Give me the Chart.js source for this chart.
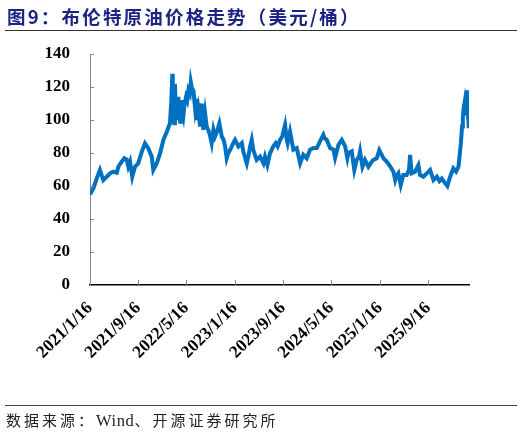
<!DOCTYPE html>
<html><head><meta charset="utf-8">
<script src="https://cdn.jsdelivr.net/npm/chart.js@4.4.1/dist/chart.umd.min.js"></script>
<style>
html,body{margin:0;padding:0;background:#fff;}
#wrap{position:relative;width:522px;height:436px;overflow:hidden;background:#fff;}
#title{position:absolute;left:7px;top:3px;font-family:"Noto Sans CJK SC";font-weight:bold;font-size:18.5px;color:#1b2483;letter-spacing:2.2px;white-space:nowrap;}
#rule1{position:absolute;left:5px;top:30px;width:512px;height:0;border-top:1.5px solid #333;}
#rule2{position:absolute;left:5px;top:405px;width:512px;height:0;border-top:1.5px solid #444;}
#src{position:absolute;left:6px;top:409px;font-family:"Noto Sans CJK SC";font-size:15px;color:#222;letter-spacing:3px;white-space:nowrap;}
#src .en{font-family:"Liberation Serif";font-size:16.5px;letter-spacing:0.6px;}
canvas{position:absolute;left:0;top:0;}
</style></head>
<body>
<div id="wrap">
<canvas id="c" width="522" height="436"></canvas>
<div id="title">图9：布伦特原油价格走势（美元/桶）</div>
<div id="rule1"></div>
<div id="rule2"></div>
<div id="src">数据来源：<span class="en">Wind</span>、开源证券研究所</div>
</div>
<script>
const dates = [
'2021-01-16','2021-02-02','2021-02-19','2021-03-07','2021-03-24','2021-04-10','2021-04-27','2021-05-13','2021-05-31','2021-06-08',
'2021-06-25','2021-07-08','2021-07-20','2021-07-28','2021-08-06','2021-08-17','2021-08-31','2021-09-16','2021-10-04','2021-10-20',
'2021-11-06','2021-11-23','2021-12-01','2021-12-18','2022-01-04','2022-01-21','2022-02-07','2022-02-23','2022-03-02','2022-03-07',
'2022-03-09','2022-03-12','2022-03-16','2022-03-20','2022-03-24','2022-03-29','2022-04-02','2022-04-06','2022-04-11','2022-04-15',
'2022-04-19','2022-04-23','2022-04-27','2022-05-01','2022-05-08','2022-05-15','2022-05-21','2022-05-27','2022-06-03','2022-06-08',
'2022-06-14','2022-06-21','2022-06-29','2022-07-04','2022-07-08','2022-07-16','2022-07-25','2022-08-02','2022-08-10','2022-08-19',
'2022-08-27','2022-09-04','2022-09-12','2022-09-21','2022-09-30','2022-10-08','2022-10-17','2022-10-30','2022-11-11','2022-11-20',
'2022-11-28','2022-12-06','2022-12-14','2022-12-23','2023-01-08','2023-01-17','2023-02-03','2023-02-20','2023-02-28','2023-03-09',
'2023-03-17','2023-03-25','2023-04-03','2023-04-11','2023-04-19','2023-05-06','2023-05-23','2023-06-09','2023-06-17','2023-06-29',
'2023-07-12','2023-07-29','2023-08-10','2023-08-20','2023-09-01','2023-09-12','2023-09-26','2023-10-05','2023-10-09','2023-10-21',
'2023-11-07','2023-11-24','2023-12-11','2023-12-27','2024-01-13','2024-01-30','2024-02-16','2024-03-04','2024-03-20','2024-04-06',
'2024-04-12','2024-04-23','2024-05-10','2024-05-27','2024-06-04','2024-06-21','2024-07-08','2024-07-25','2024-08-05','2024-08-10',
'2024-08-27','2024-09-09','2024-09-21','2024-10-03','2024-10-08','2024-10-20','2024-11-02','2024-11-19','2024-12-06','2024-12-14',
'2024-12-31','2025-01-13','2025-02-03','2025-02-20','2025-03-08','2025-03-25','2025-04-03','2025-04-09','2025-04-19','2025-05-01',
'2025-05-14','2025-05-31','2025-06-12','2025-06-17','2025-06-25','2025-07-12','2025-07-29','2025-08-06','2025-08-23','2025-09-09',
'2025-09-26','2025-10-13','2025-10-30','2025-11-12','2025-11-24','2025-12-11','2025-12-22','2026-01-05','2026-01-21','2026-02-04',
'2026-02-16','2026-02-28','2026-03-06','2026-03-10','2026-03-14','2026-03-18','2026-03-22','2026-03-25','2026-03-28','2026-03-31',
'2026-04-02','2026-04-04','2026-04-07','2026-04-09'
];
const prices = [
55,58.6,64.6,69.7,63.6,65.6,67.7,68.7,68,71.7,
74.7,76.8,76,71.7,74.7,65.6,71.7,73.7,80.8,85.9,
82.8,77.8,69.7,73.7,79.8,87.9,92.9,98,112,128,
111,100,98,122,108,100,106,114,103,99,
107,112,104,102,110,114,112,118,116,123,
119,118,108,113,100,106,96,110,94,104,
96,94,91,86,94,90,92.7,98,90,88,
84,76.8,80,81.8,86,88,84,86,80.8,77,
73.7,78,84,88,81.8,75.8,77.8,73.7,77.8,72.7,
79.8,84,86,84,88,90,97,88,86,93,
82,83,73.7,79,76.8,82,83,83,87,91,
89,88,83,82,77,85,88,84,77,80,
81,69.7,75.8,78,81,71.7,75.8,71.7,74.7,75.8,
76.8,81.8,76.8,74.7,72,68.7,63.6,66,67.7,60.6,
66.7,66.7,70,78.8,67.7,68.7,72.7,66.7,65.6,67.7,
69.7,63.6,65.6,63,64.6,61.6,60,65.6,70.7,68.7,
71.7,85.9,96,102,107,110,104,112,108,118,
110,104,100,95
];
const tickLabels = ['2021/1/16','2021/9/16','2022/5/16','2023/1/16','2023/9/16','2024/5/16','2025/1/16','2025/9/16'];
const yTicks = [0,20,40,60,80,100,120,140];
const axisStart = '2021/1/16';
const axisEnd = '2026/4/10';

const base = (function(s){const p=s.split('/').map(Number);return Date.UTC(p[0],p[1]-1,p[2]);})(axisStart);
function dayOf(s){const p=s.split(/[-\/]/).map(Number);return (Date.UTC(p[0],p[1]-1,p[2])-base)/864e5;}

const innerTicks = {
  id:'innerTicks',
  afterDraw(c){
    const ctx=c.ctx, xs=c.scales.x, ys=c.scales.y, a=c.chartArea;
    ctx.save();
    ctx.strokeStyle='#868686'; ctx.lineWidth=1;
    ctx.beginPath();
    xs.ticks.forEach(t=>{
      const px=Math.round(xs.getPixelForValue(t.value))+0.5;
      if(px<=a.left+1) return;
      ctx.moveTo(px,a.bottom); ctx.lineTo(px,a.bottom-5);
    });
    ys.ticks.forEach(t=>{
      const py=Math.round(ys.getPixelForValue(t.value))+0.5;
      if(t.value===0) return;
      ctx.moveTo(a.left,py); ctx.lineTo(a.left+4,py);
    });
    ctx.stroke();
    ctx.restore();
  }
};

const yFont = {family:'"Liberation Serif"', size:17, weight:'bold'};
const xFont = {family:'"Liberation Serif"', size:17.5, weight:'bold'};

new Chart(document.getElementById('c'), {
  type:'line',
  data:{datasets:[{
    data: dates.map((d,i)=>({x:dayOf(d), y:prices[i]})),
    borderColor:'#0070C0',
    borderWidth:4,
    pointRadius:0,
    tension:0,
    fill:false
  }]},
  options:{
    responsive:false,
    animation:false,
    devicePixelRatio:1,
    layout:{padding:{left:0,right:53,top:54,bottom:0}},
    plugins:{legend:{display:false},tooltip:{enabled:false},title:{display:false}},
    scales:{
      x:{
        type:'linear', min:0, max:dayOf(axisEnd),
        afterBuildTicks:s=>{s.ticks=tickLabels.map(t=>({value:dayOf(t)}));},
        afterFit:s=>{s.height=436-285;},
        grid:{display:true,drawOnChartArea:false,drawTicks:false},
        border:{display:true,color:'#000',width:1.5},
        ticks:{autoSkip:false,maxRotation:45,minRotation:45,padding:13,color:'#000',font:xFont,
          callback:(v,i)=>tickLabels[i]}
      },
      y:{
        min:0,max:140,
        afterBuildTicks:s=>{s.ticks=yTicks.map(v=>({value:v}));},
        afterFit:s=>{s.width=90;},
        grid:{display:true,drawOnChartArea:false,drawTicks:false},
        border:{display:true,color:'#868686',width:1},
        ticks:{padding:20,color:'#000',font:yFont,callback:v=>String(v)}
      }
    }
  },
  plugins:[innerTicks]
});
</script>
</body></html>
